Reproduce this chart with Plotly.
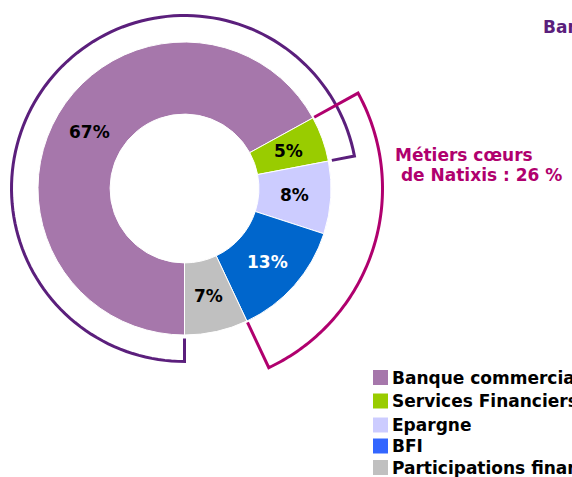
import numpy as np
import plotly.graph_objects as go

# ---- data ----
categories = ["Banque commerciale", "Services Financiers Spécialisés", "Epargne", "BFI",
              "Participations financières"]
values = [67, 5, 8, 13, 7]
slice_colors = ["#A677AB", "#99CC00", "#CCCCFF", "#0066CC", "#C0C0C0"]
legend_colors = ["#A677AB", "#99CC00", "#CCCCFF", "#3366FF", "#C0C0C0"]
label_colors = ["black", "black", "black", "white", "black"]

# groups shown by the outer brackets (index ranges in categories)
group_banque = (0, 2)    # Banque commerciale + Services Financiers
group_metiers = (1, 4)   # Métiers coeurs de Natixis

# ---- layout geometry (screen pixels) ----
W, H = 572, 477
cx, cy = 184.5, 188.5
R = 146.5
hole = 0.508
FONT = "DejaVu Sans"
PURPLE = "#5B1F7C"
MAGENTA = "#B0006E"


def px(x):
    return x / W


def py(y):
    return 1 - y / H


total = sum(values)
cum = np.concatenate([[0], np.cumsum(values)]) / total


def ang(frac):
    # clockwise from 12 o'clock, starting at 6 o'clock
    return np.deg2rad(180 + 360 * frac)


def pt(r, a):
    return cx + r * np.sin(a), cy - r * np.cos(a)


def bracket(f0, f1, r_in, r_arc):
    pts = [pt(r_in, ang(f0))]
    for a in np.linspace(ang(f0), ang(f1), 120):
        pts.append(pt(r_arc, a))
    pts.append(pt(r_in, ang(f1)))
    return "M " + " L ".join(f"{px(x):.5f},{py(y):.5f}" for x, y in pts)


fig = go.Figure()
fig.add_trace(go.Pie(
    labels=categories,
    values=values,
    sort=False,
    direction="clockwise",
    rotation=180,
    hole=hole,
    marker=dict(colors=slice_colors, line=dict(color="white", width=1)),
    textinfo="none",
    domain=dict(x=[px(cx - R), px(cx + R)], y=[py(cy + R), py(cy - R)]),
    showlegend=False,
    hoverinfo="label+percent",
))

annotations = []
# slice percentage labels at the middle of the ring
r_mid = R * (1 + hole) / 2
for i, (v, col) in enumerate(zip(values, label_colors)):
    x, y = pt(r_mid, ang((cum[i] + cum[i + 1]) / 2))
    annotations.append(dict(x=px(x), y=py(y), xref="paper", yref="paper",
                            text=f"{v}%", showarrow=False, xanchor="center", yanchor="middle",
                            borderpad=0,
                            font=dict(family=FONT, size=17, color=col, weight="bold")))

shapes = []
shapes.append(dict(type="path", xref="paper", yref="paper",
                   path=bracket(cum[group_banque[0]], cum[group_banque[1]], 150, 173),
                   line=dict(color=PURPLE, width=3)))
shapes.append(dict(type="path", xref="paper", yref="paper",
                   path=bracket(cum[group_metiers[0]], cum[group_metiers[1]], 148, 198),
                   line=dict(color=MAGENTA, width=3)))

# custom legend
leg_y = [377.5, 401, 425, 446, 467.5]
for name, col, y in zip(categories, legend_colors, leg_y):
    shapes.append(dict(type="rect", xref="paper", yref="paper",
                       x0=px(373), x1=px(388), y0=py(y + 7.5), y1=py(y - 7.5),
                       fillcolor=col, line=dict(width=0)))
    annotations.append(dict(x=px(391), y=py(y), xref="paper", yref="paper",
                            text=name, showarrow=False, xanchor="left", yanchor="middle",
                            borderpad=0,
                            font=dict(family=FONT, size=17, color="black", weight="bold")))

banque_pct = sum(values[group_banque[0]:group_banque[1]])
metiers_pct = sum(values[group_metiers[0]:group_metiers[1]])
annotations.append(dict(x=px(542), y=py(27), xref="paper", yref="paper",
                        text=f"Banque commerciale : {banque_pct} %", showarrow=False,
                        xanchor="left", yanchor="middle", borderpad=0,
                        font=dict(family=FONT, size=17, color=PURPLE, weight="bold")))
annotations.append(dict(x=px(394), y=py(155), xref="paper", yref="paper",
                        text="Métiers cœurs", showarrow=False,
                        xanchor="left", yanchor="middle", borderpad=0,
                        font=dict(family=FONT, size=17, color=MAGENTA, weight="bold")))
annotations.append(dict(x=px(394), y=py(175), xref="paper", yref="paper",
                        text=f"\u00a0de Natixis : {metiers_pct} %", showarrow=False,
                        xanchor="left", yanchor="middle", borderpad=0,
                        font=dict(family=FONT, size=17, color=MAGENTA, weight="bold")))

fig.update_layout(
    width=W, height=H,
    margin=dict(l=0, r=0, t=0, b=0),
    paper_bgcolor="white",
    plot_bgcolor="white",
    shapes=shapes,
    annotations=annotations,
)

fig.write_html("out.html",
               config={"displayModeBar": False},
               post_script="document.body.style.margin='0';document.body.style.overflow='hidden';")
